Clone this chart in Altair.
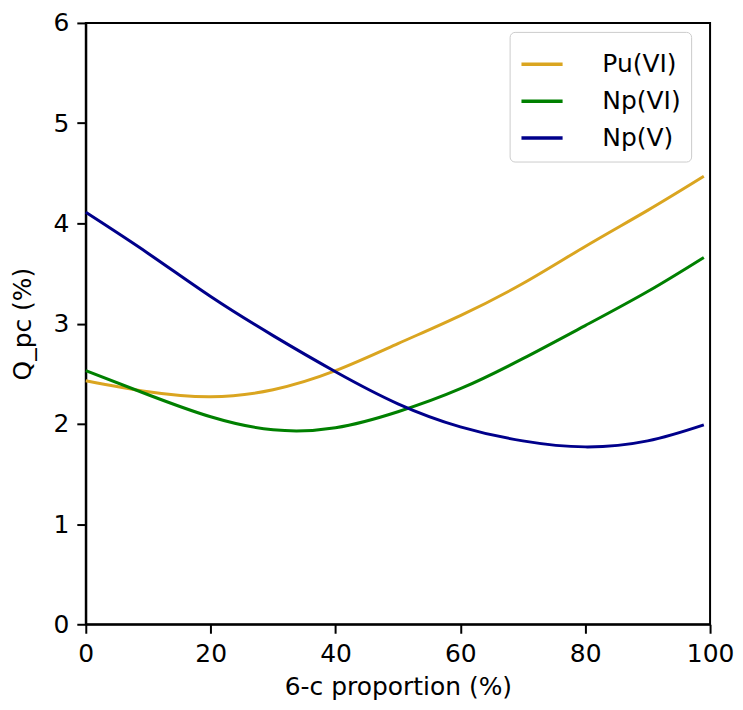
import altair as alt
import pandas as pd

# ---- data ----
x_values = [0, 10, 20, 30, 40, 50, 60, 70, 80, 90, 99]
pu_vi = [2.43, 2.32, 2.27, 2.34, 2.53, 2.80, 3.08, 3.40, 3.77, 4.13, 4.47]
np_vi = [2.53, 2.29, 2.07, 1.94, 1.96, 2.12, 2.35, 2.65, 2.98, 3.32, 3.66]
np_v = [4.11, 3.70, 3.27, 2.88, 2.52, 2.20, 1.97, 1.83, 1.77, 1.83, 1.99]

series_names = ["Pu(VI)", "Np(VI)", "Np(V)"]
series_colors = ["#DAA520", "#008000", "#00008B"]
x_ticks = [0, 20, 40, 60, 80, 100]
y_ticks = [0, 1, 2, 3, 4, 5, 6]

rows = []
for name, vals in zip(series_names, [pu_vi, np_vi, np_v]):
    for xv, yv in zip(x_values, vals):
        rows.append({"x": xv, "y": yv, "series": name})
df = pd.DataFrame(rows)

FONT = "DejaVu Sans"

chart = alt.Chart(df).mark_line(strokeWidth=3, interpolate="natural").encode(
    x=alt.X("x:Q",
            scale=alt.Scale(domain=[0, 100], nice=False, zero=False),
            axis=alt.Axis(title="6-c proportion (%)", values=x_ticks, grid=False,
                          labelFontSize=25, titleFontSize=25, tickSize=9,
                          labelPadding=8, titlePadding=8, labelFlush=False)),
    y=alt.Y("y:Q",
            scale=alt.Scale(domain=[0, 6], nice=False),
            axis=alt.Axis(title="Q_pc (%)", values=y_ticks, grid=False,
                          labelFontSize=25, titleFontSize=25, tickSize=9,
                          labelPadding=8, titlePadding=18, labelFlush=False)),
    color=alt.Color("series:N",
                    scale=alt.Scale(domain=series_names, range=series_colors),
                    legend=alt.Legend(title=None, orient="none", legendX=425, legendY=9,
                                      symbolType="stroke", symbolSize=1700,
                                      symbolStrokeWidth=3.5, labelFontSize=25,
                                      labelOffset=38, rowPadding=1, padding=10,
                                      strokeColor="#cccccc", fillColor="white",
                                      cornerRadius=5, labelFont=FONT,
                                      labelColor="black")),
).properties(
    width=626,
    height=603,
    autosize=alt.AutoSizeParams(type="none"),
    padding={"left": 78, "top": 14, "right": 25, "bottom": 84},
).configure_view(
    stroke="black", strokeWidth=2
).configure_axis(
    labelFont=FONT, titleFont=FONT, labelColor="black", titleColor="black",
    domainColor="black", tickColor="black", domainWidth=2, tickWidth=2,
    titleFontWeight="normal"
)

chart.save("out.html", embed_options={"renderer": "svg", "actions": False})
